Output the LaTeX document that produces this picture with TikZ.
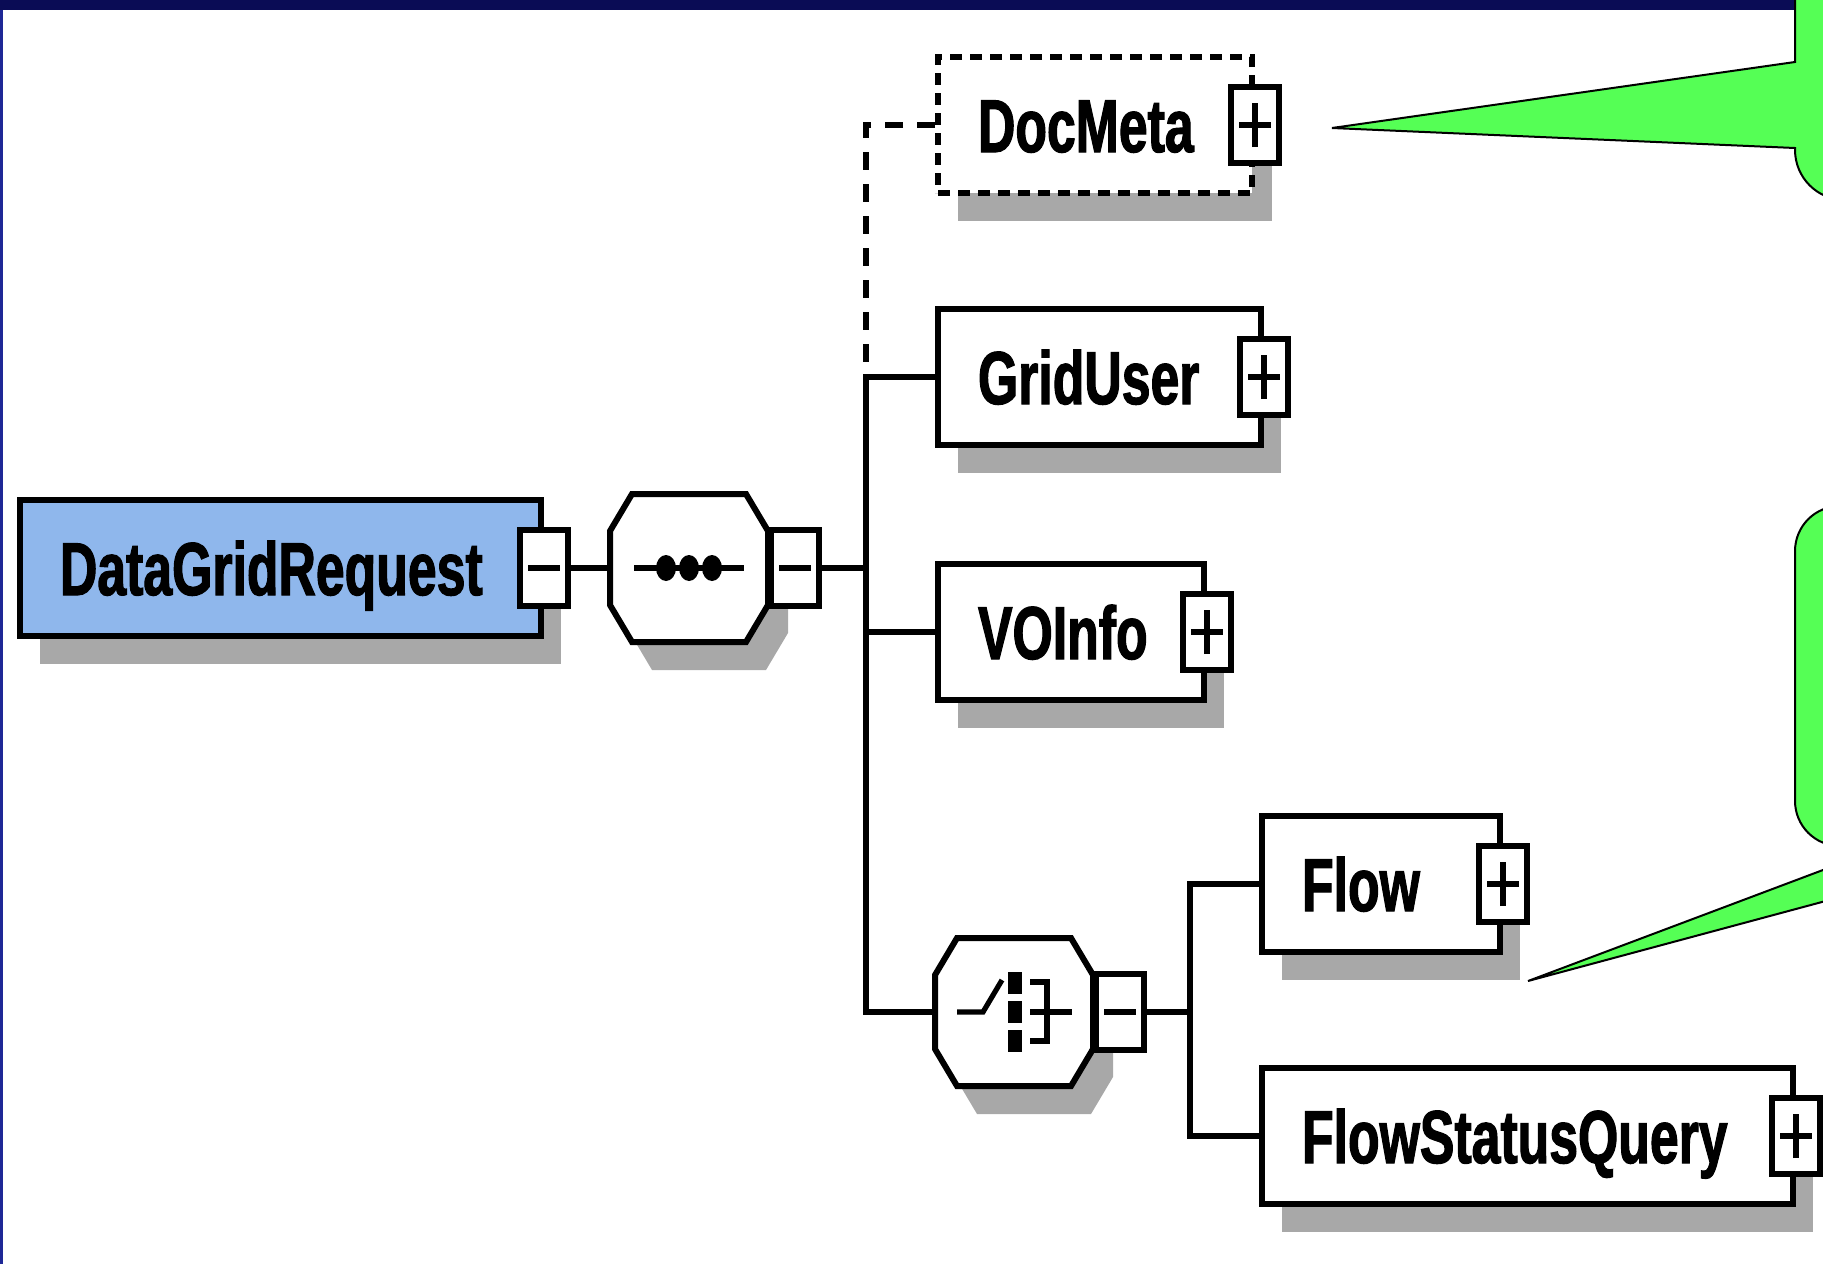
\documentclass[tikz,border=0pt]{standalone}
\usepackage{fontspec}
\newfontfamily\xsdfont{Liberation Sans}[FakeStretch=0.69,FakeBold=1.5]
\usetikzlibrary{shadows,calc}

\definecolor{navybar}{RGB}{10,12,85}
\definecolor{barblue}{RGB}{30,40,150}
\definecolor{rootblue}{RGB}{143,183,236}
\definecolor{shadowgray}{RGB}{168,168,168}
\definecolor{notegreen}{RGB}{85,255,85}
\definecolor{darkgreen}{RGB}{0,100,30}

\tikzset{
  % element boxes of the schema
  elem/.style={draw, line width=3pt, fill=white, anchor=west, minimum height=68pt,
    inner xsep=20pt, inner ysep=0pt, text height=27pt, text depth=0pt, align=left,
    font=\xsdfont\bfseries\fontsize{37.5}{40}\selectfont,
    drop shadow={shadow xshift=10pt, shadow yshift=-14pt, fill=shadowgray, opacity=1}},
  optelem/.style={elem, dash pattern=on 6pt off 4pt},
  expbox/.style={draw, line width=3pt, fill=white, minimum width=24pt, minimum height=38pt, inner sep=0pt},
  plusbox/.style={expbox, path picture={
      \draw[line width=2.6pt] ([xshift=-8pt]path picture bounding box.center) -- ([xshift=8pt]path picture bounding box.center);
      \draw[line width=2.6pt] ([yshift=-11pt]path picture bounding box.center) -- ([yshift=11pt]path picture bounding box.center);}},
  minusbox/.style={expbox, path picture={
      \draw[line width=2.6pt] ([xshift=-8pt]path picture bounding box.center) -- ([xshift=8pt]path picture bounding box.center);}},
  compbox/.style={minimum width=79pt, minimum height=74pt, inner sep=0pt},
  link/.style={line width=2.8pt},
  optlink/.style={link, dash pattern=on 9pt off 7pt},
  note/.style={draw=black, line width=1pt, fill=notegreen},
  % compositor octagon with its shadow
  octa/.pic={
    \fill[shadowgray] (-37,-46) -- (77,-46) -- (99,-9) -- (99,65) -- (77,102) -- (-37,102) -- (-59,65) -- (-59,-9) -- cycle;
    \filldraw[fill=white, line width=3pt] (-57,-74) -- (57,-74) -- (79,-37) -- (79,37) -- (57,74) -- (-57,74) -- (-79,37) -- (-79,-37) -- cycle;
  },
  seqsym/.pic={
    \draw[line width=2.6pt] (-55,0) -- (55,0);
    \foreach \d in {-23,0,23} \fill (\d,0) ellipse [x radius=5pt, y radius=6.5pt];
  },
  choicesym/.pic={
    \draw[line width=2.6pt] (-57,0) -- (-31,0) -- (-12,-32);
    \foreach \y in {-29,0,29} \fill (-6,\y-11) rectangle (8,\y+11);
    \draw[line width=2.6pt] (16,-30) -- (33,-30) -- (33,29) -- (16,29);
    \draw[line width=2.6pt] (16,0) -- (58,0);
  }
}

\begin{document}
\begin{tikzpicture}[x=0.5pt, y=-0.5pt]
  \useasboundingbox (0,0) rectangle (1823,1264);
  \clip (0,0) rectangle (1823,1264);

  % frame of the slide
  \fill[navybar] (0,0) rectangle (1823,10);
  \fill[darkgreen] (1796,0) rectangle (1823,10);
  \fill[barblue] (0,10) rectangle (3,1264);

  % root element and sequence
  \node[elem, fill=rootblue, text width=220.5pt] (dgr) at (17,568) {DataGridRequest};
  \node[minusbox] (dgr-m) at (dgr.east) {};
  \node[compbox] (seq) at (689,568) {};
  \pic at (seq.center) {octa};
  \pic at (seq.center) {seqsym};
  \node[minusbox, anchor=west] (seq-m) at (seq.east) {};

  % children of the sequence
  \node[optelem, text width=117pt] (docmeta) at (935,125) {DocMeta};
  \node[plusbox] (docmeta-p) at (docmeta.east) {};
  \node[elem, text width=121.5pt] (griduser) at (935,377) {GridUser};
  \node[plusbox] (griduser-p) at (griduser.east) {};
  \node[elem, text width=93pt] (voinfo) at (935,632) {VOInfo};
  \node[plusbox] (voinfo-p) at (voinfo.east) {};
  \node[compbox] (choice) at (1014,1012) {};
  \pic at (choice.center) {octa};
  \pic at (choice.center) {choicesym};
  \node[minusbox, anchor=west] (choice-m) at (choice.east) {};

  % children of the choice
  \node[elem, text width=79pt] (flow) at (1259,884) {Flow};
  \node[plusbox] (flow-p) at (flow.east) {};
  \node[elem, text width=225.5pt] (fsq) at (1259,1136) {FlowStatusQuery};
  \node[plusbox] (fsq-p) at (fsq.east) {};

  % connectors
  \coordinate (trunk) at (866,377);
  \coordinate (fork) at (1190,1012);
  \draw[link] (dgr-m.east) -- (seq.west);
  \draw[link] (seq-m.east) -- (seq-m.east -| trunk);
  \draw[optlink] (docmeta.west) -| (trunk);
  \draw[link] (griduser.west) -- (trunk) |- (choice.west);
  \draw[link] (voinfo.west) -- (voinfo.west -| trunk);
  \draw[link] (choice-m.east) -- (fork);
  \draw[link] (flow.west) -| (fork) |- (fsq.west);

  % callouts
  \draw[note] (1900,-60) -- (1795,-60) -- (1795,62) -- (1332,128) -- (1795,148)
    [rounded corners=25pt] -- (1795,200) -- (1900,200) -- cycle;
  \draw[note, rounded corners=22.5pt] (2100,506) -- (1795,506) -- (1795,846) -- (2100,846) -- cycle;
  \draw[note] (1528,981) -- (1900,841) -- (1900,881) -- cycle;
\end{tikzpicture}
\end{document}
